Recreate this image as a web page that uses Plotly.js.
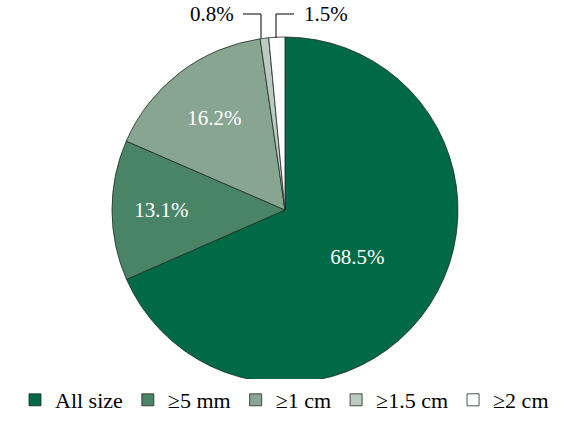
<!DOCTYPE html>
<html><head><meta charset="utf-8">
<script src="https://cdn.plot.ly/plotly-3.0.1.min.js"></script>
<style>html,body{margin:0;padding:0;background:#fff}</style>
</head><body>
<div id="chart" style="width:569px;height:421px"></div>
<script>
const categories = ["All size", "\u22655 mm", "\u22651 cm", "\u22651.5 cm", "\u22652 cm"];
const values = [68.5, 13.1, 16.2, 0.8, 1.5];
const colors = ["#006a46", "#4a8467", "#88a591", "#bccbbf", "#ffffff"];
const insideLabel = values.map(v => v >= 5 ? v.toFixed(1) + "%" : "");

const FONT = "'Liberation Serif', 'Times New Roman', Times, serif";

const trace = {
  type: "pie",
  labels: categories,
  values: values,
  sort: false,
  direction: "clockwise",
  rotation: 0,
  marker: {colors: colors, line: {color: "#1f2a24", width: 0.8}},
  text: insideLabel,
  textinfo: "text",
  textposition: "inside",
  insidetextorientation: "horizontal",
  insidetextfont: {family: FONT, size: 21, color: "#ffffff"},
  hoverinfo: "none",
  domain: {x: [0.1968, 0.8049], y: [0.0903, 0.9121]}
};

const lineStyle = {color: "#000", width: 1};
const layout = {
  width: 569, height: 421,
  margin: {l: 0, r: 0, t: 0, b: 0},
  paper_bgcolor: "#fff",
  font: {family: FONT, size: 20, color: "#000"},
  showlegend: true,
  legend: {orientation: "h", x: 0.5, xanchor: "center", y: 0, yanchor: "bottom",
           font: {family: FONT, size: 22}, itemwidth: 30, traceorder: "normal"},
  shapes: [
    {type: "line", xref: "paper", yref: "paper", x0: 243/569, x1: 261/569, y0: 1-14/421, y1: 1-14/421, line: lineStyle},
    {type: "line", xref: "paper", yref: "paper", x0: 261/569, x1: 261/569, y0: 1-14/421, y1: 1-38/421, line: lineStyle},
    {type: "line", xref: "paper", yref: "paper", x0: 276/569, x1: 276/569, y0: 1-38/421, y1: 1-14/421, line: lineStyle},
    {type: "line", xref: "paper", yref: "paper", x0: 276/569, x1: 294/569, y0: 1-14/421, y1: 1-14/421, line: lineStyle}
  ],
  annotations: [
    {xref: "paper", yref: "paper", x: 236/569, y: 1-14/421, xanchor: "right", yanchor: "middle",
     text: values[3].toFixed(1) + "%", showarrow: false, font: {family: FONT, size: 21}},
    {xref: "paper", yref: "paper", x: 302/569, y: 1-14/421, xanchor: "left", yanchor: "middle",
     text: values[4].toFixed(1) + "%", showarrow: false, font: {family: FONT, size: 21}}
  ]
};

Plotly.newPlot("chart", [trace], layout, {displayModeBar: false, staticPlot: true});
</script>
</body></html>
